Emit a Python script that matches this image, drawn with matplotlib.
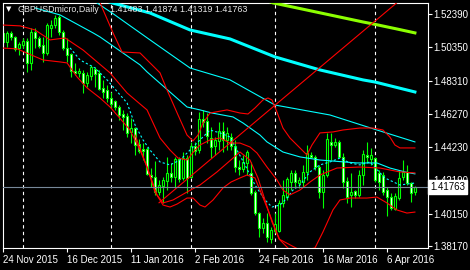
import matplotlib
matplotlib.use("Agg")
import matplotlib.pyplot as plt
from matplotlib.patches import Rectangle

# --------------------------------------------------------------------
# Data (daily GBPUSD, 24 Nov 2015 - 15 Apr 2016)
# --------------------------------------------------------------------

opens = [1.5123, 1.5068, 1.5123, 1.5098, 1.5031, 1.5049, 1.5074, 1.4939, 1.5129, 1.5092,
         1.5049, 1.5000, 1.5153, 1.5172, 1.5221, 1.5129, 1.5031, 1.4994, 1.4890, 1.4878,
         1.4878, 1.4816, 1.4859, 1.4902, 1.4878, 1.4786, 1.4773, 1.4724, 1.4706, 1.4669,
         1.4626, 1.4614, 1.4516, 1.4540, 1.4442, 1.4412, 1.4412, 1.4252, 1.4240, 1.4148,
         1.4185, 1.4216, 1.4265, 1.4240, 1.4350, 1.4234, 1.4357, 1.4240, 1.4430, 1.4406,
         1.4596, 1.4583, 1.4479, 1.4430, 1.4461, 1.4522, 1.4467, 1.4485, 1.4430, 1.4301,
         1.4289, 1.4326, 1.4265, 1.4148, 1.4019, 1.3927, 1.3958, 1.3860, 1.3909, 1.3909,
         1.4081, 1.4117, 1.4209, 1.4265, 1.4203, 1.4209, 1.4271, 1.4375, 1.4363, 1.4301,
         1.4148, 1.4252, 1.4455, 1.4436, 1.4455, 1.4363, 1.4216, 1.4130, 1.4154, 1.4130,
         1.4252, 1.4375, 1.4350, 1.4357, 1.4265, 1.4252, 1.4160, 1.4117, 1.4044, 1.4111,
         1.4240, 1.4271, 1.4203, 1.41483]

highs = [1.5141, 1.5135, 1.5135, 1.5104, 1.5068, 1.5092, 1.5092, 1.5153, 1.5153, 1.5104,
         1.5098, 1.5184, 1.5202, 1.5233, 1.5233, 1.5141, 1.5092, 1.5000, 1.4939, 1.4908,
         1.4896, 1.4884, 1.4927, 1.4914, 1.4896, 1.4835, 1.4804, 1.4761, 1.4712, 1.4681,
         1.4651, 1.4632, 1.4602, 1.4547, 1.4473, 1.4449, 1.4424, 1.4295, 1.4338, 1.4222,
         1.4240, 1.4363, 1.4326, 1.4363, 1.4363, 1.4393, 1.4375, 1.4455, 1.4455, 1.4638,
         1.4651, 1.4632, 1.4547, 1.4485, 1.4577, 1.4577, 1.4547, 1.4510, 1.4467, 1.4344,
         1.4375, 1.4406, 1.4332, 1.4160, 1.4025, 1.3989, 1.4019, 1.3934, 1.4019, 1.4099,
         1.4222, 1.4240, 1.4283, 1.4283, 1.4240, 1.4314, 1.4436, 1.4393, 1.4375, 1.4314,
         1.4283, 1.4510, 1.4510, 1.4479, 1.4467, 1.4387, 1.4240, 1.4265, 1.4160, 1.4283,
         1.4406, 1.4455, 1.4418, 1.4363, 1.4283, 1.4271, 1.4179, 1.4142, 1.4142, 1.4283,
         1.4344, 1.4314, 1.4209, 1.41874]

lows = [1.5049, 1.5037, 1.5080, 1.5012, 1.4988, 1.5031, 1.4884, 1.4896, 1.5031, 1.5031,
        1.4945, 1.4988, 1.5098, 1.5153, 1.5110, 1.5019, 1.4945, 1.4853, 1.4865, 1.4853,
        1.4755, 1.4792, 1.4835, 1.4792, 1.4773, 1.4724, 1.4700, 1.4663, 1.4651, 1.4589,
        1.4528, 1.4485, 1.4449, 1.4375, 1.4387, 1.4344, 1.4252, 1.4179, 1.4130, 1.4130,
        1.4081, 1.4160, 1.4209, 1.4173, 1.4209, 1.4222, 1.4142, 1.4234, 1.4375, 1.4387,
        1.4547, 1.4449, 1.4357, 1.4375, 1.4406, 1.4393, 1.4406, 1.4406, 1.4271, 1.4252,
        1.4271, 1.4252, 1.4130, 1.4007, 1.3872, 1.3897, 1.3842, 1.3835, 1.3897, 1.3903,
        1.4056, 1.4099, 1.4160, 1.4173, 1.4173, 1.4179, 1.4222, 1.4357, 1.4283, 1.4111,
        1.4050, 1.4240, 1.4344, 1.4424, 1.4357, 1.4173, 1.4081, 1.4056, 1.4111, 1.4117,
        1.4191, 1.4326, 1.4314, 1.4209, 1.4160, 1.4130, 1.4001, 1.4038, 1.4038, 1.4099,
        1.4222, 1.4191, 1.4087, 1.41319]

closes = [1.5068, 1.5123, 1.5098, 1.5025, 1.5055, 1.5074, 1.4939, 1.5129, 1.5092, 1.5043,
          1.5000, 1.5172, 1.5172, 1.5215, 1.5129, 1.5031, 1.4988, 1.4890, 1.4878, 1.4890,
          1.4816, 1.4865, 1.4914, 1.4871, 1.4779, 1.4761, 1.4724, 1.4687, 1.4669, 1.4620,
          1.4608, 1.4510, 1.4540, 1.4436, 1.4400, 1.4400, 1.4259, 1.4240, 1.4148, 1.4191,
          1.4222, 1.4265, 1.4240, 1.4350, 1.4228, 1.4357, 1.4234, 1.4430, 1.4400, 1.4596,
          1.4577, 1.4491, 1.4424, 1.4467, 1.4522, 1.4467, 1.4510, 1.4430, 1.4301, 1.4289,
          1.4332, 1.4393, 1.4142, 1.4019, 1.3927, 1.3958, 1.3872, 1.3915, 1.3952, 1.4081,
          1.4130, 1.4228, 1.4265, 1.4209, 1.4222, 1.4271, 1.4387, 1.4363, 1.4301, 1.4148,
          1.4252, 1.4473, 1.4436, 1.4455, 1.4363, 1.4209, 1.4117, 1.4148, 1.4130, 1.4252,
          1.4381, 1.4363, 1.4375, 1.4222, 1.4209, 1.4148, 1.4117, 1.4050, 1.4124, 1.4234,
          1.4271, 1.4203, 1.4142, 1.41763]

# date axis: one label every 16 bars, month separators
date_tick_bars = [0, 16, 32, 48, 64, 80, 96]
date_labels = ["24 Nov 2015", "16 Dec 2015", "11 Jan 2016", "2 Feb 2016",
               "24 Feb 2016", "16 Mar 2016", "6 Apr 2016"]
month_start_bars = [5, 27, 47, 68, 93]

price_ticks = [1.52390, 1.50350, 1.48310, 1.46270, 1.44230, 1.42190, 1.40150, 1.38170]

# moving averages (bar position, price)
ma_slow_bars = [64.25, 67.5, 73.5, 81.75, 90, 92.5, 98.5, 103]
ma_slow_vals = [1.5337, 1.5307, 1.5276, 1.5233, 1.5190, 1.5178, 1.5147, 1.5123]

ma_long_bars = [23, 27.25, 36.75, 46.75, 56.75, 68, 79.25, 90, 93, 103]
ma_long_vals = [1.5343, 1.5307, 1.5245, 1.5141, 1.5086, 1.4976, 1.4896, 1.4835, 1.4822, 1.4761]

ma_mid_bars = [21.25, 27.25, 36.75, 46.75, 56.75, 68, 81.75, 93.5, 103]
ma_mid_vals = [1.5343, 1.5245, 1.5080, 1.4908, 1.4835, 1.4681, 1.4620, 1.4528, 1.4455]

ma_short_bars = [8, 14.25, 22.5, 24.25, 34.25, 36, 46, 49.25, 52.25, 57.5, 60, 64.25,
                 66, 70, 74.25, 79.25, 88.5, 93.5, 96.75, 100.5, 103]
ma_short_vals = [1.5276, 1.5233, 1.5123, 1.5098, 1.4927, 1.4884, 1.4669, 1.4651, 1.4632,
                 1.4608, 1.4571, 1.4497, 1.4455, 1.4393, 1.4363, 1.4344, 1.4326, 1.4326,
                 1.4295, 1.4271, 1.4259]

ma_fast_bars = [16.75, 19.25, 23, 26, 29.25, 31, 33, 35, 36.75, 39.25, 41.75, 44.25,
                46.75, 49.25, 51.75, 54.25, 56.75, 58.5, 60.5, 63, 65.5, 67.25, 69.25,
                71, 72.5, 74.25, 76.75, 79.25, 81.75, 84.25, 86.75, 89.25, 91.75, 95.5,
                99.25, 103]
ma_fast_vals = [1.5031, 1.4957, 1.4908, 1.4835, 1.4743, 1.4694, 1.4559, 1.4467, 1.4405,
                1.4332, 1.4314, 1.4344, 1.4405, 1.4467, 1.4528, 1.4510, 1.4485, 1.4405,
                1.4314, 1.4191, 1.4099, 1.4056, 1.4068, 1.4111, 1.4160, 1.4191, 1.4271,
                1.4314, 1.4332, 1.4356, 1.4326, 1.4314, 1.4332, 1.4234, 1.4191, 1.4203]

# band lines (red)
band_fast_up_bars = [22, 24.25, 27.5, 29.75, 34.25, 39.25, 41, 43.75, 46, 47.5, 48.75, 50,
                     51.75, 56, 59.25, 61.25, 63, 65, 66.25, 67.25, 68.5, 70, 71.75, 74.25,
                     76, 77.25, 79.25, 82.5, 85, 89.25, 92.5, 95, 96.75, 98, 99.25, 103]
band_fast_up_vals = [1.5400, 1.5307, 1.5123, 1.5006, 1.5000, 1.4878, 1.4773, 1.4620, 1.4497,
                     1.4461, 1.4497, 1.4571, 1.4632, 1.4651, 1.4632, 1.4626, 1.4663, 1.4712,
                     1.4724, 1.4712, 1.4638, 1.4540, 1.4479, 1.4418, 1.4375, 1.4436, 1.4510,
                     1.4516, 1.4528, 1.4540, 1.4540, 1.4528, 1.4485, 1.4436, 1.4418, 1.4418]

band_slow_up_bars = [-0.75, 4.25, 8, 11.75, 15.5, 20, 26.75, 31, 36, 39.25, 41.75, 43.75,
                     46, 48, 49.25, 51.75, 54.25, 56.75, 59.25, 61.75, 63.5, 66, 68.5, 70,
                     71.75, 74.25, 76.75, 79.25, 83.5, 89.25, 94.25, 99.25, 103]
band_slow_up_vals = [1.5172, 1.5166, 1.5141, 1.5080, 1.5092, 1.5018, 1.4878, 1.4755, 1.4651,
                     1.4479, 1.4405, 1.4356, 1.4344, 1.4405, 1.4436, 1.4467, 1.4479, 1.4448,
                     1.4448, 1.4424, 1.4387, 1.4301, 1.4222, 1.4160, 1.4130, 1.4160, 1.4209,
                     1.4252, 1.4295, 1.4301, 1.4295, 1.4271, 1.4265]

band_slow_lo_bars = [-0.75, 3.5, 10, 14.25, 16, 18.5, 21, 24.25, 26.75, 31.75, 34.25, 36,
                     38, 40, 41.75, 43.5, 46, 47.5, 49.25, 50.5, 52.5, 55, 57, 59.25, 61,
                     63, 64.75, 66.75, 69, 74.25, 81.75, 89.25, 103]
band_slow_lo_vals = [1.5031, 1.5025, 1.4957, 1.4945, 1.4939, 1.4853, 1.4786, 1.4724, 1.4669,
                     1.4528, 1.4405, 1.4301, 1.4148, 1.4068, 1.4056, 1.4074, 1.4111, 1.4111,
                     1.4068, 1.4056, 1.4099, 1.4173, 1.4209, 1.4234, 1.4252, 1.4234, 1.4130,
                     1.4007, 1.3860, 1.3792, 1.3792, 1.3780, 1.3770]

band_fast_lo_bars = [33, 36, 38.5, 40, 42.5, 46, 49.25, 53.5, 59.25, 61.75, 63.75, 65.5,
                     67.25, 69.25, 71.75, 75.5, 78, 80, 82.5, 84.25, 86.75, 91, 93.5, 96,
                     98.5, 101, 103]
band_fast_lo_vals = [1.4497, 1.4301, 1.4130, 1.4081, 1.4099, 1.4148, 1.4191, 1.4271, 1.4393,
                     1.4344, 1.4234, 1.4099, 1.3964, 1.3854, 1.3792, 1.3792, 1.3805, 1.3903,
                     1.4038, 1.4099, 1.4111, 1.4111, 1.4117, 1.4081, 1.4038, 1.4019, 1.4025]

# trend line anchors
trend_bars = [39, 100]
trend_vals = [1.4082, 1.5339]

last_close = closes[-1]
title_text = "GBPUSDmicro,Daily"
ohlc_text = "1.41483 1.41874 1.41319 1.41763"

# --------------------------------------------------------------------
# Styling
# --------------------------------------------------------------------

BG = "black"
FG = "white"
CANDLE = "#00ff00"
RED = "#ff0000"
CYAN = "#00ffff"
LIME = "#8cff00"
BID = "#778899"
FONT = ["Liberation Sans", "DejaVu Sans"]

plt.rcParams["font.family"] = FONT
plt.rcParams["font.size"] = 7

W, H = 470, 270

fig = plt.figure(figsize=(W / 100, H / 100), dpi=100, facecolor=BG)

ax = fig.add_axes([2.7 / W, (H - 248.3) / H, 425 / W, 245.6 / H])
ax.set_facecolor(BG)
ax.set_xlim(-0.1, 106.2)
ax.set_ylim(1.3803, 1.5308)

for spine in ax.spines.values():
    spine.set_color(FG)
    spine.set_linewidth(0.8)

# month separators
for b in month_start_bars:
    ax.axvline(b, color=FG, lw=0.8, linestyle=(0, (3, 3)), zorder=1)

# candles
for i, (o, h, l, c) in enumerate(zip(opens, highs, lows, closes)):
    ax.vlines(i, l, h, color=CANDLE, lw=0.8, zorder=2)
    fill = "black" if c > o else "white"
    ax.add_patch(Rectangle((i - 0.3, min(o, c)), 0.6, max(abs(c - o), 0.00005),
                           facecolor=fill, edgecolor=CANDLE, lw=0.8, zorder=2.1))

# moving averages
ax.plot(ma_slow_bars, ma_slow_vals, color=LIME, lw=2.2, zorder=3)
ax.plot(ma_long_bars, ma_long_vals, color=CYAN, lw=2.2, zorder=3)
ax.plot(ma_mid_bars, ma_mid_vals, color=CYAN, lw=0.8, zorder=3)
ax.plot(ma_short_bars, ma_short_vals, color=CYAN, lw=0.8, zorder=3)
ax.plot(ma_fast_bars, ma_fast_vals, color=CYAN, lw=0.8, linestyle=(0, (2, 2)), zorder=3)

# bands
ax.plot(band_fast_up_bars, band_fast_up_vals, color=RED, lw=0.8, zorder=3)
ax.plot(band_slow_up_bars, band_slow_up_vals, color=RED, lw=0.8, zorder=3)
ax.plot(band_slow_lo_bars, band_slow_lo_vals, color=RED, lw=0.8, zorder=3)
ax.plot(band_fast_lo_bars, band_fast_lo_vals, color=RED, lw=0.8, zorder=3)

# trend line
ax.plot(trend_bars, trend_vals, color=RED, lw=0.8, zorder=3)

# bid line
ax.axhline(last_close, color=BID, lw=0.8, zorder=3.5)

# axes ticks
ax.set_xticks(date_tick_bars)
ax.set_xticklabels(date_labels, ha="left")
ax.set_yticks(price_ticks)
ax.set_yticklabels([f"{p:.5f}" for p in price_ticks])

ax.tick_params(axis="x", colors=FG, direction="out", length=3, width=0.8, pad=1.5,
               labelsize=7)
ax.tick_params(axis="y", colors=FG, direction="out", length=3, width=0.8, pad=1,
               left=False, labelleft=False, right=True, labelright=True, labelsize=7)

# current price box on the scale
ax.text(1.006, last_close, f"{last_close:.5f}", transform=ax.get_yaxis_transform(),
        ha="left", va="center", color="black", fontsize=7, clip_on=False, zorder=10,
        bbox=dict(boxstyle="square,pad=0.2", facecolor="white", edgecolor="white"))

# chart caption
fig.text(6 / W, 1 - 9.5 / H, "\u25bc", color=FG, fontsize=5, va="center",
         family=["DejaVu Sans"])
fig.text(18 / W, 1 - 9.5 / H, title_text, color="#e8e8e8", fontsize=6.4, va="center")
fig.text(110 / W, 1 - 9.5 / H, ohlc_text, color="#e8e8e8", fontsize=6.4, va="center")

fig.savefig("out.png", dpi=100, facecolor=BG)
